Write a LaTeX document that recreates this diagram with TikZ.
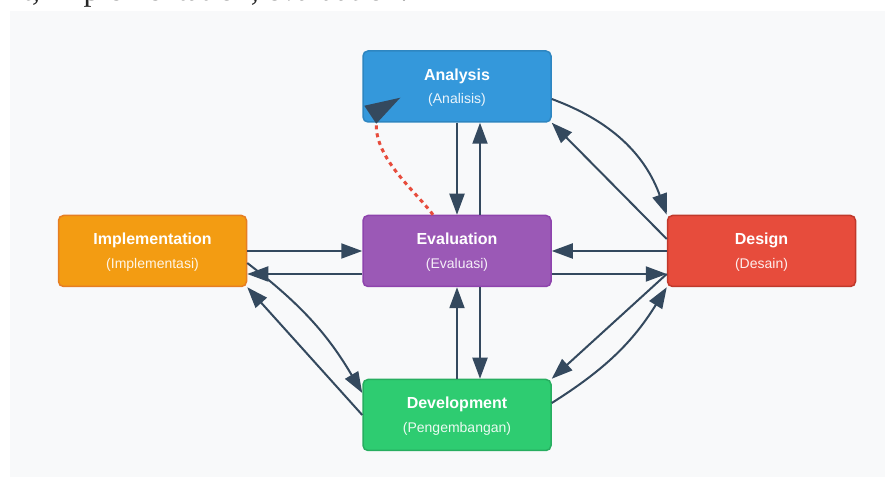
\documentclass[tikz,border=0pt]{standalone}
\usepackage{fontspec}
\setmainfont{Liberation Sans}
\newfontfamily\serifdoc{Liberation Serif}
\usetikzlibrary{arrows.meta,calc}
\definecolor{arrowcol}{HTML}{34495E}
\definecolor{panelbg}{HTML}{F8F9FA}
\definecolor{anafill}{HTML}{3498DB}\definecolor{anaedge}{HTML}{2E86C1}
\definecolor{evafill}{HTML}{9B59B6}\definecolor{evaedge}{HTML}{8E44AD}
\definecolor{impfill}{HTML}{F39C12}\definecolor{impedge}{HTML}{E67E22}
\definecolor{desfill}{HTML}{E74C3C}\definecolor{desedge}{HTML}{C0392B}
\definecolor{devfill}{HTML}{2ECC71}\definecolor{devedge}{HTML}{27AE60}
\definecolor{dashred}{HTML}{E74C3C}
\begin{document}
\begin{tikzpicture}[x=1pt,y=1pt,
  phase/.style={rectangle, rounded corners=5pt, minimum width=188pt, minimum height=71pt, inner sep=0pt, line width=1.5pt},
  titletxt/.style={anchor=base, text=white, font=\fontsize{16}{19}\selectfont\bfseries, inner sep=0pt},
  subtxt/.style={anchor=base, text=white, text opacity=0.9, font=\fontsize{14}{17}\selectfont, inner sep=0pt},
  flow/.style={draw=arrowcol, line width=2pt, -{Triangle[length=21pt,width=15pt]}},
  feedback/.style={draw=dashred, line width=3pt, dash pattern=on 4pt off 4pt}]
\useasboundingbox (0,0) rectangle (895,477);
\fill[white] (0,0) rectangle (895,477);
\fill[panelbg] (10,0) rectangle (885,466);
\node[anchor=base west, font=\serifdoc\fontsize{32}{38}\selectfont, inner sep=0pt, text=black!85] (toptext) at (7,476) {nt, Implementation, evaluation.};
% phases
\node[phase, fill=anafill, draw=anaedge] (ana) at (457,390.5) {};
\node[phase, fill=evafill, draw=evaedge] (eva) at (457,226) {};
\node[phase, fill=impfill, draw=impedge] (imp) at (152.5,226) {};
\node[phase, fill=desfill, draw=desedge] (des) at (761.5,226) {};
\node[phase, fill=devfill, draw=devedge] (dev) at (457,62) {};
% labels
\node[titletxt] (anaT) at ($(ana)+(0,6)$) {Analysis};
\node[subtxt] (anaS) at ($(ana)+(0,-17.5)$) {(Analisis)};
\node[titletxt] (evaT) at ($(eva)+(0,6)$) {Evaluation};
\node[subtxt] (evaS) at ($(eva)+(0,-17.5)$) {(Evaluasi)};
\node[titletxt] (impT) at ($(imp)+(0,6)$) {Implementation};
\node[subtxt] (impS) at ($(imp)+(0,-17.5)$) {(Implementasi)};
\node[titletxt] (desT) at ($(des)+(0,6)$) {Design};
\node[subtxt] (desS) at ($(des)+(0,-17.5)$) {(Desain)};
\node[titletxt] (devT) at ($(dev)+(0,6)$) {Development};
\node[subtxt] (devS) at ($(dev)+(0,-17.5)$) {(Pengembangan)};
% vertical connectors
\draw[flow] (ana.south) -- (eva.north);
\draw[flow] ($(eva.north)+(23,0)$) -- ($(ana.south)+(23,0)$);
\draw[flow] (dev.north) -- (eva.south);
\draw[flow] ($(eva.south)+(23,0)$) -- ($(dev.north)+(23,0)$);
% horizontal connectors
\draw[flow] (imp.east) -- (eva.west);
\draw[flow] ($(eva.west)+(0,-23)$) -- ($(imp.east)+(0,-23)$);
\draw[flow] (des.west) -- (eva.east);
\draw[flow] ($(eva.east)+(0,-23)$) -- ($(des.west)+(0,-23)$);
% diagonal connectors
\draw[flow] ($(ana.east)+(0,-12.5)$) to[bend left=25] (des.north west);
\draw[flow] ($(des.west)+(0,12)$) -- (ana.south east);
\draw[flow] ($(des.west)+(0,-23)$) -- (dev.north east);
\draw[flow] ($(dev.east)+(0,12)$) to[bend right=13] (des.south west);
\draw[flow] ($(imp.east)+(0,-12)$) to[bend left=11] ($(dev.west)+(0,22)$);
\draw[flow] (dev.west) -- (imp.south east);
% feedback
\draw[feedback] ($(eva.north)+(-24,0)$) .. controls +(-18,24) and +(-1,-35) .. ($(ana.south west)+(14,-1)$);
\fill[arrowcol] ($(ana.south west)+(2,17)$) -- ($(ana.south west)+(38,25)$) -- ($(ana.south west)+(14,-1)$) -- cycle;
\end{tikzpicture}
\end{document}
